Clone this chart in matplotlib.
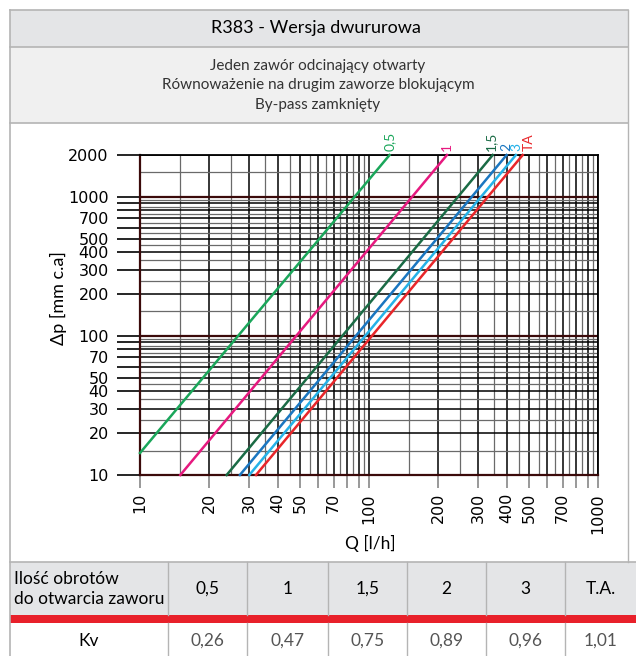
import matplotlib
matplotlib.use('Agg')
import matplotlib.pyplot as plt
from matplotlib.patches import Rectangle
from matplotlib.ticker import NullFormatter

# pressure-drop curves (start / end of each straight line)
turns = ['0,5', '1', '1,5', '2', '3', 'TA']
line_colors = ['#1aa65a', '#e6197f', '#1a6b45', '#1a76c0', '#25b2e8', '#e8262a']
q_start = [10, 15.0, 23.9, 27.3, 30.0, 32.1]
dp_start = [14.4, 10, 10, 10, 10, 10]
q_end = [123, 219, 347, 399, 438, 469]
dp_end = [2000, 2000, 2000, 2000, 2000, 2000]

# table under the chart
table_head = 'Ilość obrotów\ndo otwarcia zaworu'
table_turns = ['0,5', '1', '1,5', '2', '3', 'T.A.']
kv_values = ['0,26', '0,47', '0,75', '0,89', '0,96', '1,01']

title = 'R383 - Wersja dwururowa'
subtitle = ['Jeden zawór odcinający otwarty',
            'Równoważenie na drugim zaworze blokującym',
            'By-pass zamknięty']

x_labeled = [10, 20, 30, 40, 50, 70, 100, 200, 300, 400, 500, 700, 1000]
y_labeled = [10, 20, 30, 40, 50, 70, 100, 200, 300, 400, 500, 700, 1000, 2000]

W, H = 636, 656
TXT = ['Lato', 'DejaVu Sans']
BORDER = '#b4b4b4'
GRAY_BG = '#e4e5e7'
MAROON = '#3b0a0a'

fig = plt.figure(figsize=(W / 100, H / 100), dpi=100)

# background axes in pixel coordinates for boxes / table
bg = fig.add_axes([0, 0, 1, 1], zorder=0)
bg.set_xlim(0, W)
bg.set_ylim(H, 0)
bg.axis('off')

bg.add_patch(Rectangle((9.5, 10), 618.5, 37, facecolor=GRAY_BG, edgecolor='none'))
bg.add_patch(Rectangle((9.5, 47), 618.5, 76, facecolor='#f0f0f0', edgecolor='none'))
for yy in [10, 47, 123]:
    bg.plot([9.5, 628], [yy, yy], color=BORDER, lw=1.2)
bg.plot([9.5, 9.5], [10, H], color=BORDER, lw=1.2)
bg.plot([628, 628], [10, 562], color=BORDER, lw=1.0)

bg.text(316, 28, title, ha='center', va='center', fontsize=13, family=TXT)
for i, s in enumerate(subtitle):
    bg.text(318, 66 + i * 19.5, s, ha='center', va='center', fontsize=11,
            family=TXT, color='#333333')

# table
cols = [9.5, 168, 247, 328, 407, 486, 565, 636]
bg.add_patch(Rectangle((9.5, 562), W - 9.5, 53, facecolor=GRAY_BG, edgecolor='none'))
bg.add_patch(Rectangle((9.5, 615), W - 9.5, 8, facecolor='#e8202a', edgecolor='none'))
bg.plot([9.5, W], [562, 562], color=BORDER, lw=1.2)
for cx in cols[1:-1]:
    bg.plot([cx, cx], [562, 615], color=BORDER, lw=1.0)
    bg.plot([cx, cx], [623, H], color=BORDER, lw=1.0)
bg.text(14, 589, table_head, ha='left', va='center', fontsize=12.5,
        family=TXT, linespacing=1.35)
bg.text((cols[0] + cols[1]) / 2, 641, 'Kv', ha='center', va='center',
        fontsize=12.5, family=TXT)
for i in range(len(table_turns)):
    cx = (cols[i + 1] + cols[i + 2]) / 2
    bg.text(cx, 589, table_turns[i], ha='center', va='center', fontsize=12.5, family=TXT)
    bg.text(cx, 641, kv_values[i], ha='center', va='center', fontsize=12.5,
            family=TXT, color='#555555')

bg.text(58, 298, 'Δp [mm c.a]', rotation=90, ha='center', va='center',
        fontsize=13, family=TXT)
bg.text(370, 543, 'Q [l/h]', ha='center', va='center', fontsize=12.5, family=TXT)

# chart
ax = fig.add_axes([140 / W, 1 - 475 / H, 458 / W, 320 / H], zorder=1)
ax.set_xscale('log')
ax.set_yscale('log')

x_major = [m * d for d in [10, 100] for m in range(1, 10)] + [1000]
x_minor = [(m + 0.5) * d for d in [10, 100] for m in range(1, 10)]
y_major = [m * d for d in [10, 100] for m in range(1, 10)] + [1000, 2000]
y_minor = [(m + 0.5) * d for d in [10, 100] for m in range(1, 10)] + [1500]

ax.set_xticks(x_major, [str(v) if v in x_labeled else '' for v in x_major])
ax.set_xticks(x_minor, minor=True)
ax.set_yticks(y_major, [str(v) if v in y_labeled else '' for v in y_major])
ax.set_yticks(y_minor, minor=True)
ax.xaxis.set_minor_formatter(NullFormatter())
ax.yaxis.set_minor_formatter(NullFormatter())
ax.set_xlim(10, 1000)
ax.set_ylim(10, 2000)

ax.tick_params(axis='x', which='major', length=9.5, width=1.2, color='#888888',
               pad=3.5, labelrotation=90, labelsize=11.5)
ax.tick_params(axis='y', which='major', length=16.5, width=1.2, color='black',
               pad=6, labelsize=11.5)
ax.tick_params(which='minor', length=0)

ax.set_axisbelow(True)
ax.grid(which='major', color='black', lw=1.1)
ax.grid(which='minor', color='#6a6a6a', lw=0.9)
ax.axhline(100, color=MAROON, lw=1.6, zorder=2)
ax.axhline(1000, color=MAROON, lw=1.6, zorder=2)

for side in ['left', 'bottom']:
    ax.spines[side].set_color(MAROON)
    ax.spines[side].set_linewidth(1.6)
for side in ['top', 'right']:
    ax.spines[side].set_color('black')
    ax.spines[side].set_linewidth(1.3)

# horizontal nudge of the rotated curve labels (points)
label_dx = [0, 0, -1.5, -0.5, 0.5, 4.5]
for i in range(len(turns)):
    ax.plot([q_start[i], q_end[i]], [dp_start[i], dp_end[i]],
            color=line_colors[i], lw=1.8, zorder=3, clip_on=False)
    ax.annotate(turns[i], xy=(q_end[i], dp_end[i]), xytext=(label_dx[i], 3),
                textcoords='offset points', rotation=90, ha='center', va='bottom',
                color=line_colors[i], fontsize=10, family=TXT, annotation_clip=False)

fig.savefig('out.png', dpi=100)
